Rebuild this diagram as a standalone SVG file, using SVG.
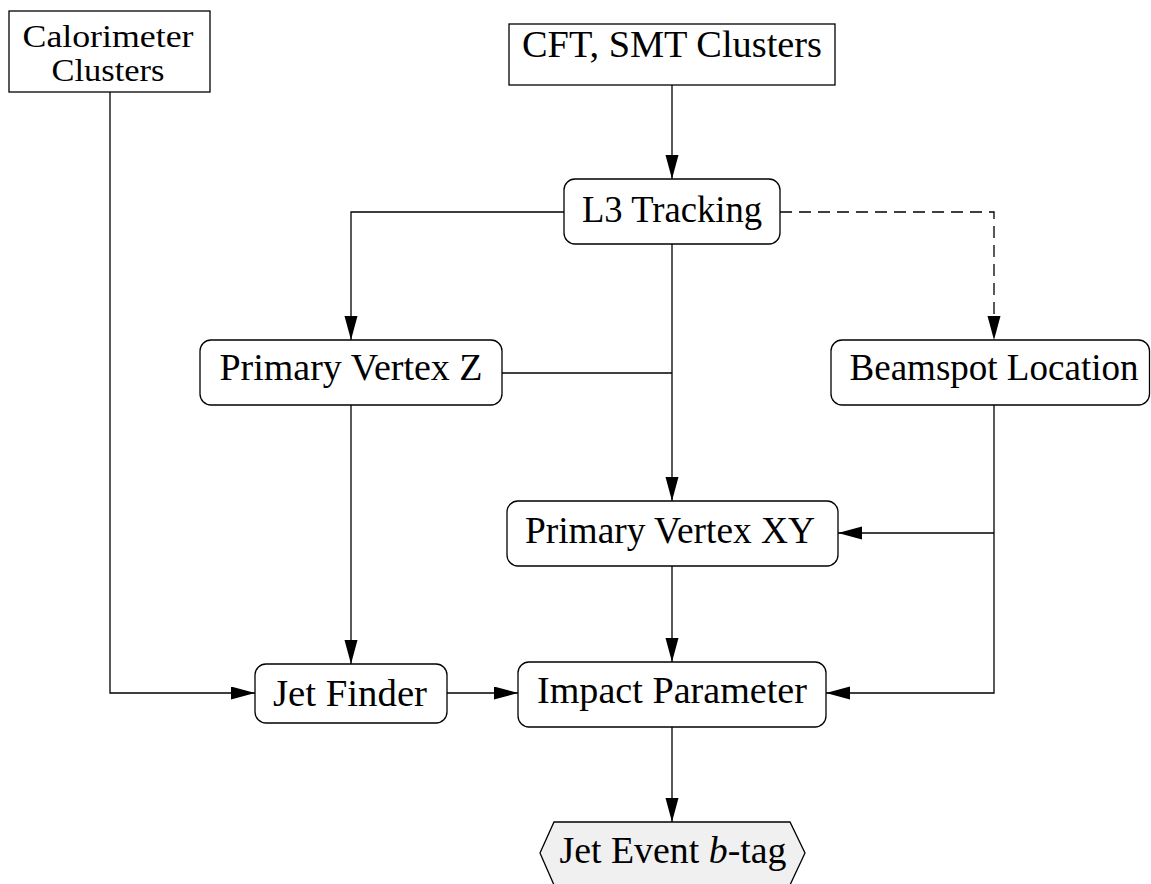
<svg xmlns="http://www.w3.org/2000/svg" width="1151" height="884" viewBox="0 0 1151 884">
  <style>
    .box { fill: #ffffff; stroke: #000000; stroke-width: 1.3; }
    .term { fill: #f0f0f0; stroke: #000000; stroke-width: 1.3; }
    .lbl { font-family: "Liberation Serif", "DejaVu Serif", serif; font-size: 37px; fill: #000000; text-anchor: middle; }
    .lbl2 { font-size: 31px; }
    .wire { fill: none; stroke: #000000; stroke-width: 1.3; }
    .dash { stroke-dasharray: 12 7; }
  </style>
  <defs>
    <marker id="head" markerUnits="userSpaceOnUse" markerWidth="25" markerHeight="14" refX="24" refY="6.5" orient="auto">
      <path d="M0,0 L24,6.5 L0,13 Z" fill="#000000"/>
    </marker>
  </defs>

  <rect width="1151" height="884" fill="#ffffff"/>

  <!-- connectors -->
  <g id="connectors">
    <path class="wire" d="M672,85 V179" marker-end="url(#head)"/>
    <path class="wire" d="M564,212 H351 V340" marker-end="url(#head)"/>
    <path class="wire" d="M672,244 V501" marker-end="url(#head)"/>
    <path class="wire" d="M502,373 H672"/>
    <path class="wire dash" d="M780,212 H994 V340" marker-end="url(#head)"/>
    <path class="wire" d="M994,405 V693 H826" marker-end="url(#head)"/>
    <path class="wire" d="M994,533 H838" marker-end="url(#head)"/>
    <path class="wire" d="M110,92 V693 H255" marker-end="url(#head)"/>
    <path class="wire" d="M351,405 V664" marker-end="url(#head)"/>
    <path class="wire" d="M447,693 H518" marker-end="url(#head)"/>
    <path class="wire" d="M672,566 V662" marker-end="url(#head)"/>
    <path class="wire" d="M672,727 V822" marker-end="url(#head)"/>
  </g>

  <!-- nodes -->
  <g id="calorimeter-clusters">
    <rect class="box" x="9" y="11" width="201" height="81"/>
    <text class="lbl lbl2" x="108" y="46.5" textLength="171" lengthAdjust="spacingAndGlyphs">Calorimeter</text>
    <text class="lbl lbl2" x="108" y="81" textLength="113" lengthAdjust="spacingAndGlyphs">Clusters</text>
  </g>

  <g id="cft-smt-clusters">
    <rect class="box" x="509" y="24" width="326" height="61"/>
    <text class="lbl" x="672" y="57" textLength="300" lengthAdjust="spacingAndGlyphs">CFT, SMT Clusters</text>
  </g>

  <g id="l3-tracking">
    <rect class="box" x="564" y="179" width="216" height="65" rx="11" ry="11"/>
    <text class="lbl" x="672" y="222" textLength="180" lengthAdjust="spacingAndGlyphs">L3 Tracking</text>
  </g>

  <g id="primary-vertex-z">
    <rect class="box" x="200" y="340" width="302" height="65" rx="11" ry="11"/>
    <text class="lbl" x="351" y="380" textLength="263" lengthAdjust="spacingAndGlyphs">Primary Vertex Z</text>
  </g>

  <g id="beamspot-location">
    <rect class="box" x="831" y="340" width="318.5" height="65" rx="11" ry="11"/>
    <text class="lbl" x="994" y="380" textLength="289" lengthAdjust="spacingAndGlyphs">Beamspot Location</text>
  </g>

  <g id="primary-vertex-xy">
    <rect class="box" x="507" y="501" width="331" height="65" rx="11" ry="11"/>
    <text class="lbl" x="670" y="543" textLength="290" lengthAdjust="spacingAndGlyphs">Primary Vertex XY</text>
  </g>

  <g id="jet-finder">
    <rect class="box" x="255" y="664" width="192" height="59" rx="11" ry="11"/>
    <text class="lbl" x="350" y="706" textLength="154" lengthAdjust="spacingAndGlyphs">Jet Finder</text>
  </g>

  <g id="impact-parameter">
    <rect class="box" x="518" y="662" width="308" height="65" rx="11" ry="11"/>
    <text class="lbl" x="672" y="703" textLength="270" lengthAdjust="spacingAndGlyphs">Impact Parameter</text>
  </g>

  <g id="jet-event-btag">
    <polygon class="term" points="554,822 790,822 805,853 790,885 554,885 540,853"/>
    <text class="lbl" x="673" y="863" textLength="227" lengthAdjust="spacingAndGlyphs">Jet Event <tspan font-style="italic">b</tspan>-tag</text>
  </g>
</svg>
